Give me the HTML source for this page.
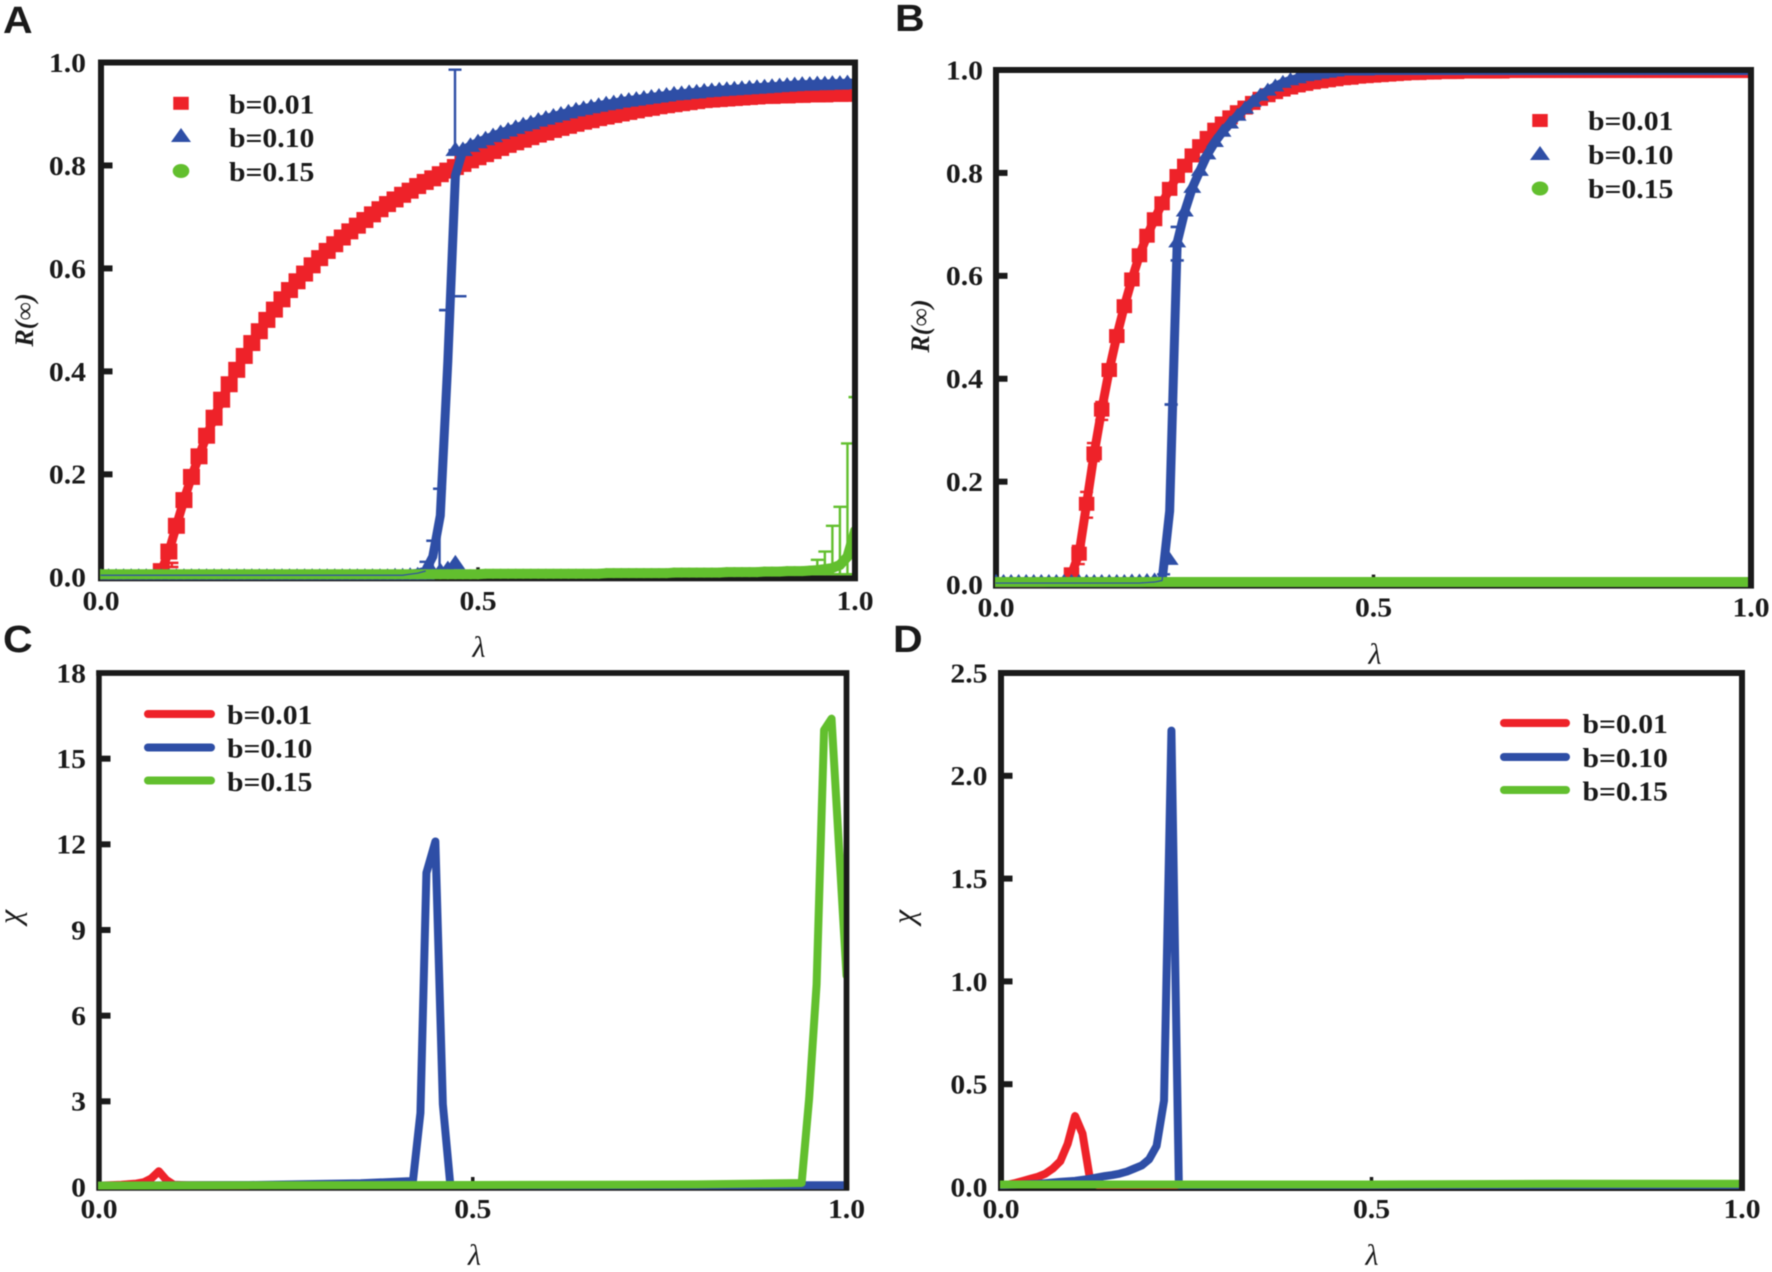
<!DOCTYPE html>
<html lang="en">
<head>
<meta charset="utf-8">
<title>Panels A-D: R(infinity) and chi versus lambda</title>
<style>
html,body{margin:0;padding:0;background:#fff;width:1772px;height:1272px;overflow:hidden}
svg{display:block;filter:blur(0.4px)}
text{font-family:"Liberation Serif",serif;fill:#1a1a1a}
.panel-letter{font-family:"Liberation Sans",sans-serif;font-weight:700;font-size:38px}
</style>
</head>
<body>
<svg id="figure" xmlns="http://www.w3.org/2000/svg" width="1772" height="1272" viewBox="0 0 1772 1272">
<rect x="0" y="0" width="1772" height="1272" fill="#fff"/>
<text class="panel-letter" transform="translate(3,33) scale(1.08,1)">A</text>
<text class="panel-letter" transform="translate(895,31) scale(1.08,1)">B</text>
<text class="panel-letter" transform="translate(3,652) scale(1.08,1)">C</text>
<text class="panel-letter" transform="translate(893,652) scale(1.08,1)">D</text>
</svg>
<script>
// ---------- shared category axis and labels ----------
const lambdaGrid = [0,.01,.02,.03,.04,.05,.06,.07,.08,.09,.10,.11,.12,.13,.14,.15,.16,.17,.18,.19,.20,.21,.22,.23,.24,.25,.26,.27,.28,.29,.30,.31,.32,.33,.34,.35,.36,.37,.38,.39,.40,.41,.42,.43,.44,.45,.46,.47,.48,.49,.50,.51,.52,.53,.54,.55,.56,.57,.58,.59,.60,.61,.62,.63,.64,.65,.66,.67,.68,.69,.70,.71,.72,.73,.74,.75,.76,.77,.78,.79,.80,.81,.82,.83,.84,.85,.86,.87,.88,.89,.90,.91,.92,.93,.94,.95,.96,.97,.98,.99,1.0];
const seriesLabels = ["b=0.01","b=0.10","b=0.15"];
const xTickValues = [0,0.5,1];
const xTickLabels = ["0.0","0.5","1.0"];
const rTickValues = [0,0.2,0.4,0.6,0.8,1];
const rTickLabels = ["0.0","0.2","0.4","0.6","0.8","1.0"];
const chiCTickValues = [0,3,6,9,12,15,18];
const chiCTickLabels = ["0","3","6","9","12","15","18"];
const chiDTickValues = [0,0.5,1,1.5,2,2.5];
const chiDTickLabels = ["0.0","0.5","1.0","1.5","2.0","2.5"];
const xTitle = "λ";
const rTitle = "R(∞)";
const chiTitle = "χ";

// ---------- panel A series ----------
const redA = [.004,.004,.004,.004,.004,.004,.005,.006,.012,.05,.10,.15,.195,.235,.275,.31,.345,.375,.403,.43,.455,.478,.50,.52,.54,.558,.575,.59,.606,.62,.634,.647,.66,.672,.683,.694,.705,.715,.725,.734,.743,.751,.76,.768,.775,.783,.79,.797,.803,.81,.816,.822,.828,.834,.84,.845,.85,.855,.86,.864,.869,.873,.877,.881,.885,.888,.892,.895,.898,.901,.904,.907,.91,.912,.915,.917,.919,.921,.923,.925,.927,.928,.929,.93,.931,.932,.933,.934,.935,.935,.936,.936,.937,.937,.938,.938,.938,.939,.939,.939,.94];
const blueMarkersA = [.001,.001,.001,.001,.001,.001,.001,.001,.001,.001,.001,.001,.001,.001,.001,.001,.001,.001,.001,.001,.001,.001,.001,.001,.001,.001,.001,.001,.001,.001,.001,.001,.001,.001,.001,.001,.001,.001,.001,.002,.002,.003,.004,.006,.009,.012,.016,.027,.83,.838,.845,.851,.857,.863,.868,.873,.878,.882,.887,.891,.895,.899,.903,.907,.91,.913,.916,.919,.921,.924,.926,.928,.93,.932,.934,.936,.938,.939,.941,.942,.944,.945,.946,.947,.948,.949,.95,.951,.952,.953,.954,.955,.956,.957,.957,.958,.958,.959,.959,.96,.96];
const blueLineA = [.004,.004,.004,.004,.004,.004,.004,.004,.004,.004,.004,.004,.004,.004,.004,.004,.004,.004,.004,.004,.004,.004,.004,.004,.004,.004,.004,.004,.004,.004,.004,.004,.004,.004,.004,.004,.004,.004,.004,.004,.004,.006,.008,.012,.04,.12,.42,.78,.83,.838,.845,.851,.857,.863,.868,.873,.878,.882,.887,.891,.895,.899,.903,.907,.91,.913,.916,.919,.921,.924,.926,.928,.93,.932,.934,.936,.938,.939,.941,.942,.944,.945,.946,.947,.948,.949,.95,.951,.952,.953,.954,.955,.956,.957,.957,.958,.958,.959,.959,.96,.96];
const greenA = [.006,.006,.006,.006,.006,.006,.006,.006,.006,.006,.006,.006,.006,.006,.006,.006,.006,.006,.006,.006,.006,.006,.006,.006,.006,.006,.006,.006,.006,.006,.006,.006,.006,.006,.006,.006,.006,.006,.006,.006,.006,.006,.006,.006,.006,.006,.006,.006,.006,.006,.006,.007,.007,.007,.007,.007,.007,.007,.007,.007,.007,.007,.007,.007,.007,.007,.007,.008,.008,.008,.008,.008,.008,.008,.008,.008,.009,.009,.009,.009,.009,.009,.009,.01,.01,.01,.01,.01,.011,.011,.011,.012,.012,.012,.013,.014,.016,.018,.024,.04,.09];
const blueExtraLambdaA = [0.47];
const blueExtraValueA = [0.83];
const redErrLambdaA = [0.075,0.094];
const redErrLowA = [0.003,0.02];
const redErrHighA = [0.006,0.028];
const blueErrLambdaA = [0.431,0.44,0.449,0.457,0.4695,0.476];
const blueErrLowA = [0.006,0.006,0.006,0.519,0.83,0.546];
const blueErrHighA = [0.03,0.071,0.172,0.519,0.986,0.546];
const greenErrLambdaA = [0.95,0.96,0.97,0.98,0.99,1.0];
const greenErrLowA = [0.006,0.006,0.006,0.006,0.006,0.006];
const greenErrHighA = [0.034,0.05,0.1,0.137,0.26,0.35];

// ---------- panel B series ----------
const redB = [.003,.003,.003,.003,.003,.003,.003,.004,.005,.006,.02,.06,.157,.255,.34,.417,.483,.541,.593,.64,.678,.71,.741,.769,.794,.814,.834,.852,.868,.884,.896,.908,.918,.927,.936,.944,.951,.957,.962,.966,.97,.973,.976,.978,.98,.982,.984,.985,.987,.988,.989,.99,.991,.992,.993,.994,.994,.995,.995,.996,.996,.996,.997,.997,.997,.997,.997,.997,.998,.998,.998,.998,.998,.998,.998,.998,.998,.998,.998,.998,.998,.998,.998,.998,.998,.998,.998,.998,.998,.998,.998,.998,.998,.998,.998,.998,.998,.998,.998,.998,.998];
const blueMarkersB = [.005,.005,.005,.005,.005,.005,.005,.005,.005,.005,.005,.005,.005,.005,.005,.005,.005,.005,.006,.006,.007,.008,.012,.048,.665,.725,.771,.804,.836,.86,.88,.896,.911,.925,.938,.95,.96,.968,.975,.98,.984,.988,.99,.993,.995,.997,.999,.999,.999,.999,1,1,1,1,1,1,1,1,1,1,1,1,1,1,1,1,1,1,1,1,1,1,1,1,1,1,1,1,1,1,1,1,1,1,1,1,1,1,1,1,1,1,1,1,1,1,1,1,1,1,1];
const blueLineB = [.003,.003,.003,.003,.003,.003,.003,.003,.003,.003,.003,.003,.003,.003,.003,.003,.003,.003,.003,.003,.004,.005,.008,.143,.665,.725,.771,.804,.836,.86,.88,.896,.911,.925,.938,.95,.96,.968,.975,.98,.984,.988,.99,.993,.995,.997,.999,.999,.999,.999,1,1,1,1,1,1,1,1,1,1,1,1,1,1,1,1,1,1,1,1,1,1,1,1,1,1,1,1,1,1,1,1,1,1,1,1,1,1,1,1,1,1,1,1,1,1,1,1,1,1,1];
const greenB = [.005,.005,.005,.005,.005,.005,.005,.005,.005,.005,.005,.005,.005,.005,.005,.005,.005,.005,.005,.005,.005,.005,.005,.005,.005,.005,.005,.005,.005,.005,.005,.005,.005,.005,.005,.005,.005,.005,.005,.005,.005,.005,.005,.005,.005,.005,.005,.005,.005,.005,.005,.005,.005,.005,.005,.005,.005,.005,.005,.005,.005,.005,.005,.005,.005,.005,.005,.005,.005,.005,.005,.005,.005,.005,.005,.005,.005,.005,.005,.005,.005,.005,.005,.005,.005,.005,.005,.005,.005,.005,.005,.005,.005,.005,.005,.005,.005,.005,.005,.005,.005];
const redErrLambdaB = [0.10,0.109,0.12,0.129,0.14];
const redErrLowB = [0.006,0.04,0.13,0.24,0.32];
const redErrHighB = [0.03,0.075,0.18,0.275,0.355];
const blueErrLambdaB = [0.222,0.232,0.24,0.24];
const blueErrLowB = [0.003,0.35,0.63,0.695];
const blueErrHighB = [0.02,0.35,0.63,0.695];

// ---------- panel C series ----------
const redLambdaC = [0,0.03,0.05,0.06,0.07,0.08,0.09,0.10,0.12,0.2];
const redValuesC = [0.05,0.08,0.12,0.17,0.3,0.55,0.25,0.08,0.06,0.06];
const blueLambdaC = [0,0.2,0.35,0.42,0.43,0.438,0.45,0.46,0.47,0.6,0.8,1.0];
const blueValuesC = [0.05,0.07,0.13,0.21,2.6,11,12.1,2.9,0.07,0.06,0.06,0.06];
const greenLambdaC = [0,0.2,0.5,0.8,0.94,0.95,0.96,0.97,0.98,1.0];
const greenValuesC = [0.05,0.06,0.07,0.09,0.14,3.1,7.1,16,16.4,7.4];

// ---------- panel D series ----------
const redLambdaD = [0,0.01,0.02,0.03,0.04,0.05,0.06,0.07,0.08,0.09,0.10,0.11,0.12,0.13,0.3];
const redValuesD = [0.01,0.012,0.02,0.03,0.04,0.05,0.065,0.09,0.125,0.21,0.345,0.26,0.04,0.01,0.01];
const blueLambdaD = [0,0.05,0.08,0.10,0.12,0.14,0.15,0.16,0.17,0.18,0.19,0.20,0.21,0.22,0.23,0.24,0.5,1.0];
const blueValuesD = [0.01,0.015,0.025,0.03,0.04,0.053,0.058,0.065,0.075,0.09,0.105,0.135,0.2,0.42,2.22,0.01,0.01,0.01];
const greenLambdaD = [0,0.25,0.5,0.75,1.0];
const greenValuesD = [0.012,0.012,0.012,0.016,0.016];

// ---------- drawing ----------
const NS = "http://www.w3.org/2000/svg";
const RED = "#ee2229", BLUE = "#2e4ea6", GREEN = "#62bf2e", INK = "#1a1a1a";
const figure = document.getElementById("figure");

function make(tag, attrs, parent) {
  const el = document.createElementNS(NS, tag);
  for (const k in attrs) el.setAttribute(k, attrs[k]);
  parent.appendChild(el);
  return el;
}
function label(parent, str, x, y, size, anchor, sx, style) {
  const el = make("text", {transform: "translate(" + x + "," + y + ") scale(" + sx + ",1)", "font-size": size, "font-weight": "700", "text-anchor": anchor}, parent);
  if (style) {
    el.setAttribute("font-style", style);
    el.setAttribute("font-weight", "400");
  }
  el.textContent = str;
  return el;
}
function pathFrom(xs, ys, sx, sy) {
  return xs.map((v, i) => (i ? "L" : "M") + sx(v).toFixed(2) + " " + sy(ys[i]).toFixed(2)).join(" ");
}
function squareMark(parent, cx, cy, color, w, h) {
  const el = make("rect", {x: cx - w / 2, y: cy - h / 2, width: w, height: h, fill: color}, parent);
  
  
}
function triangleMark(parent, cx, cy, color, hw, tip, base) {
  const el = make("polygon", {points: (cx - hw) + "," + (cy + base) + " " + cx + "," + (cy - tip) + " " + (cx + hw) + "," + (cy + base), fill: color}, parent);
  
  
}
function circleMark(parent, cx, cy, color, rx, ry) {
  const el = make("ellipse", {cx: cx, cy: cy, rx: rx, ry: ry, fill: color}, parent);
  
  
}
function drawLine(parent, xs, ys, sx, sy, color, width, name) {
  const el = make("path", {d: pathFrom(xs, ys, sx, sy), fill: "none", stroke: color, "stroke-width": width, "stroke-linejoin": "round", "stroke-linecap": "round"}, parent);
  
  
}
function drawErrors(parent, lam, lo, hi, sx, sy, color) {
  lam.forEach((v, i) => {
    const g = make("g", {stroke: color, "stroke-width": 2.4, fill: "none"}, parent);
    
    
    const px = sx(v);
    make("line", {x1: px, x2: px, y1: sy(lo[i]), y2: sy(hi[i])}, g);
    make("line", {x1: px - 6.5, x2: px + 6.5, y1: sy(hi[i]), y2: sy(hi[i])}, g);
    make("line", {x1: px - 6.5, x2: px + 6.5, y1: sy(lo[i]), y2: sy(lo[i])}, g);
  });
}

function axes(id, box, yMax, yVals, yLabs, yTitle, opts) {
  const g = make("g", {}, figure);
  
  
  const sx = v => box.x0 + (box.x1 - box.x0) * v;
  const sy = v => box.y0 + (box.y1 - box.y0) * v / yMax;

  const frame = make("rect", {x: box.x0, y: box.y1, width: box.x1 - box.x0, height: box.y0 + 1 - box.y1, fill: "#fff", stroke: INK, "stroke-width": box.fw}, g);
  
  

  yVals.forEach((v, i) => {
    if (i > 0 && i < yVals.length - 1) {
      const t = make("line", {x1: box.x0, x2: box.x0 + 11.5, y1: sy(v), y2: sy(v), stroke: INK, "stroke-width": 6}, g);
      
      
    }
    const l = label(g, yLabs[i], opts.yLabelX, sy(v) + 9.4, 27.5, "end", 1.08);
    
    
  });
  xTickValues.forEach((v, i) => {
    if (i === 1) {
      const t = make("line", {x1: sx(v), x2: sx(v), y1: box.y0, y2: box.y0 - 10, stroke: INK, "stroke-width": 3.5}, g);
      
      
    }
    const l = label(g, xTickLabels[i], sx(v), opts.xLabelY, 27.5, "middle", 1.08);
    
    
  });
  const xt = label(g, xTitle, opts.xTitleX, opts.xTitleY, 30, "middle", 1, "italic");
  
  
  const yt = make("text", {transform: "translate(" + opts.yTitleX + "," + opts.yTitleY + ") rotate(-90)", "font-size": opts.yTitleSize, "font-weight": opts.yTitleWeight, "font-style": "italic", "text-anchor": "middle"}, g);
  yt.textContent = yTitle;
  
  

  const clipId = "clip-" + id;
  const defs = make("defs", {}, g);
  const cp = make("clipPath", {id: clipId}, defs);
  make("rect", {x: box.x0 - 1, y: box.y1, width: box.x1 - box.x0 - 1, height: box.y0 - box.y1 + 2.5}, cp);
  const plot = make("g", {"clip-path": "url(#" + clipId + ")"}, g);
  
  
  return {g, plot, sx, sy};
}
function frameOverlay(g, box) {
  const t = make("path", {d: "M" + (box.x0 - box.fw / 2) + " " + box.y1 + " H" + (box.x1 + box.fw / 2) + " M" + box.x1 + " " + box.y1 + " V" + (box.y0 + 3), fill: "none", stroke: INK, "stroke-width": box.fw}, g);
  
  
}
function markerPanel(id, box, opts, d) {
  const a = axes(id, box, 1, rTickValues, rTickLabels, rTitle, opts);
  const {g, plot, sx, sy} = a;
  // red series
  drawLine(plot, lambdaGrid, d.red, sx, sy, RED, 9, "series-b-0-01-line");
  drawErrors(plot, d.redErr[0], d.redErr[1], d.redErr[2], sx, sy, RED);
  const rm = make("g", {}, plot);
  
  
  lambdaGrid.forEach((v, i) => { if (d.red[i] > 0.011) squareMark(rm, sx(v), sy(d.red[i]), RED, opts.sqW, opts.sqH); });
  // blue series
  drawLine(plot, lambdaGrid, d.blueLine, sx, sy, BLUE, 9, "series-b-0-10-line");
  drawErrors(plot, d.blueErr[0], d.blueErr[1], d.blueErr[2], sx, sy, BLUE);
  const bm = make("g", {}, plot);
  
  
  lambdaGrid.forEach((v, i) => triangleMark(bm, sx(v), sy(d.blueMarkers[i]), BLUE, opts.triHw, opts.triTip, opts.triBase));
  d.extraLam.forEach((v, i) => triangleMark(bm, sx(v), sy(d.extraVal[i]), BLUE, opts.triHw, opts.triTip, opts.triBase));
  // green series
  drawLine(plot, lambdaGrid, d.green, sx, sy, GREEN, 10, "series-b-0-15-line");
  if (d.greenErr) drawErrors(plot, d.greenErr[0], d.greenErr[1], d.greenErr[2], sx, sy, GREEN);
  const gm = make("g", {}, plot);
  
  
  lambdaGrid.forEach((v, i) => circleMark(gm, sx(v), sy(d.green[i]), GREEN, 5, 5));
  // thin low blue trace visible over the green band
  const n = d.lowEnd;
  drawLine(plot, lambdaGrid.slice(0, n), d.blueLine.slice(0, n), sx, sy, BLUE, 1.2, "series-b-0-10-low-trace");
  frameOverlay(g, box);
  // legend
  const leg = make("g", {}, g);
  
  
  seriesLabels.forEach((s, i) => {
    const cy = opts.legY[i];
    if (i === 0) squareMark(leg, opts.legX, cy, RED, 15.5, 13);
    if (i === 1) triangleMark(leg, opts.legX, cy, BLUE, 10, 7, 7);
    if (i === 2) circleMark(leg, opts.legX, cy, GREEN, 8.3, 7);
    const t = label(leg, s, opts.legTextX, opts.legBase[i], 27, "start", 1.1);
    
    
  });
}
function linePanel(id, box, yMax, yVals, yLabs, opts, d) {
  const {g, plot, sx, sy} = axes(id, box, yMax, yVals, yLabs, chiTitle, opts);
  drawLine(plot, d.redL, d.redV, sx, sy, RED, 8, "series-b-0-01-line");
  drawLine(plot, d.blueL, d.blueV, sx, sy, BLUE, 8, "series-b-0-10-line");
  drawLine(plot, d.greenL, d.greenV, sx, sy, GREEN, 8, "series-b-0-15-line");
  frameOverlay(g, box);
  const leg = make("g", {}, g);
  
  
  [RED, BLUE, GREEN].forEach((c, i) => {
    const swatch = make("line", {x1: opts.legX0, x2: opts.legX1, y1: opts.legY[i], y2: opts.legY[i], stroke: c, "stroke-width": 8, "stroke-linecap": "round"}, leg);
    
    
    const t = label(leg, seriesLabels[i], opts.legTextX, opts.legBase[i], 27, "start", 1.1);
    
    
  });
}

markerPanel("a", {x0: 101, x1: 855, y0: 577.3, y1: 62.5, fw: 6},
  {yLabelX: 86, xLabelY: 610, xTitleX: 479, xTitleY: 657, yTitleX: 33, yTitleY: 320, yTitleSize: 26, yTitleWeight: 700,
   sqW: 17, sqH: 16, triHw: 10, triTip: 8.5, triBase: 6,
   legX: 181, legY: [103.3, 135, 171], legTextX: 229, legBase: [113.5, 147, 181]},
  {red: redA, blueLine: blueLineA, blueMarkers: blueMarkersA, green: greenA,
   redErr: [redErrLambdaA, redErrLowA, redErrHighA], blueErr: [blueErrLambdaA, blueErrLowA, blueErrHighA],
   greenErr: [greenErrLambdaA, greenErrLowA, greenErrHighA], extraLam: blueExtraLambdaA, extraVal: blueExtraValueA, lowEnd: 44});

markerPanel("b", {x0: 996, x1: 1751, y0: 584.6, y1: 70, fw: 6},
  {yLabelX: 983, xLabelY: 616.5, xTitleX: 1375, xTitleY: 664, yTitleX: 929, yTitleY: 326, yTitleSize: 26, yTitleWeight: 700,
   sqW: 15.5, sqH: 14, triHw: 9, triTip: 8, triBase: 5,
   legX: 1540, legY: [120.5, 153, 188.5], legTextX: 1588, legBase: [130, 164, 198]},
  {red: redB, blueLine: blueLineB, blueMarkers: blueMarkersB, green: greenB,
   redErr: [redErrLambdaB, redErrLowB, redErrHighB], blueErr: [blueErrLambdaB, blueErrLowB, blueErrHighB],
   greenErr: null, extraLam: [], extraVal: [], lowEnd: 24});

linePanel("c", {x0: 99, x1: 846.5, y0: 1187, y1: 673, fw: 5.5}, 18, chiCTickValues, chiCTickLabels,
  {yLabelX: 86, xLabelY: 1218, xTitleX: 474.5, xTitleY: 1265, yTitleX: 20, yTitleY: 917, yTitleSize: 32, yTitleWeight: 400,
   legX0: 148, legX1: 211, legY: [714, 747.5, 780.5], legTextX: 227, legBase: [724, 757.5, 791]},
  {redL: redLambdaC, redV: redValuesC, blueL: blueLambdaC, blueV: blueValuesC, greenL: greenLambdaC, greenV: greenValuesC});

linePanel("d", {x0: 1001, x1: 1742, y0: 1187, y1: 673, fw: 6}, 2.5, chiDTickValues, chiDTickLabels,
  {yLabelX: 987.5, xLabelY: 1218, xTitleX: 1372, xTitleY: 1265, yTitleX: 914, yTitleY: 917, yTitleSize: 32, yTitleWeight: 400,
   legX0: 1504, legX1: 1566, legY: [723, 757, 790], legTextX: 1582.5, legBase: [733, 767, 800.5]},
  {redL: redLambdaD, redV: redValuesD, blueL: blueLambdaD, blueV: blueValuesD, greenL: greenLambdaD, greenV: greenValuesD});
</script>
</body>
</html>
